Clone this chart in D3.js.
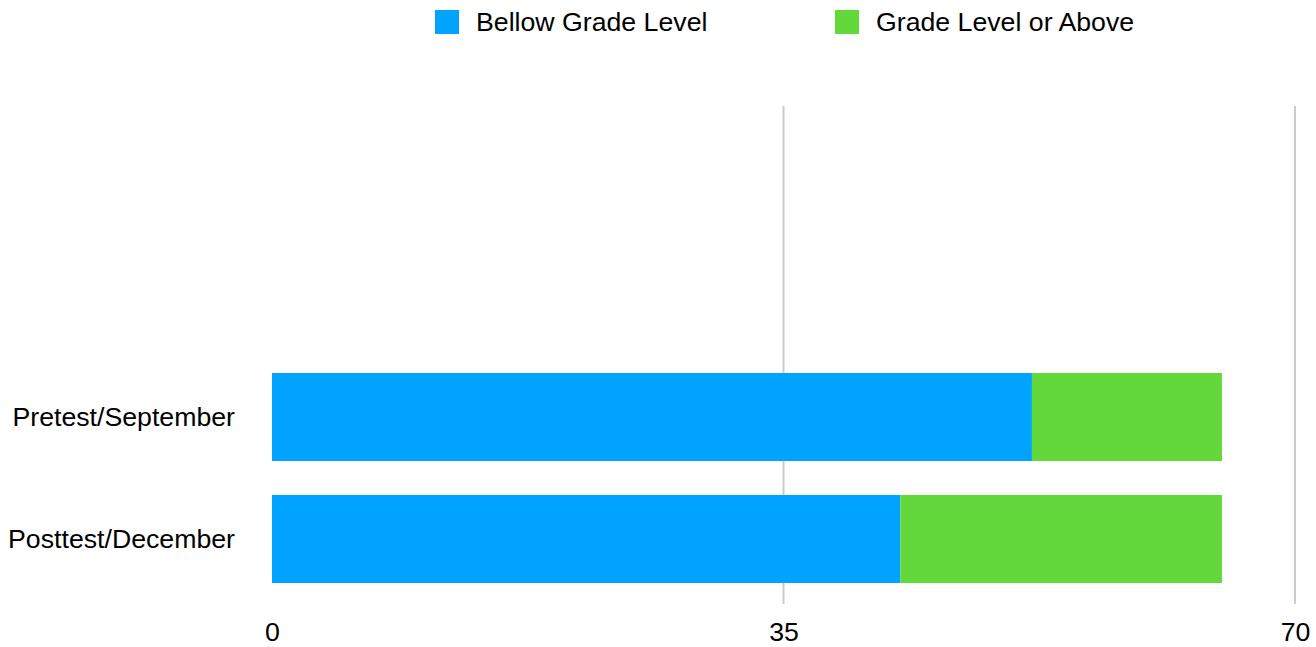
<!DOCTYPE html>
<html>
<head>
<meta charset="utf-8">
<script src="https://cdn.jsdelivr.net/npm/d3@7"></script>
<style>
  body { margin: 0; background: #fff; }
  text { font-family: "Liberation Sans", Arial, sans-serif; fill: #000; }
</style>
</head>
<body>
<div id="chart"></div>
<script>
// reading levels data
var categories = ["Pretest/September", "Posttest/December"];
var seriesNames = ["Bellow Grade Level", "Grade Level or Above"];
var bellowGrade = [52, 43];
var gradeOrAbove = [13, 22];
var tickValues = [0, 35, 70];

var colors = ["#00a3ff", "#63d83a"];
var fontSize = "26.7px";

var width = 1316, height = 647;

var svg = d3.select("#chart")
  .append("svg")
    .attr("width", width)
    .attr("height", height);

// x scale
var x = d3.scaleLinear()
  .domain([0, 70])
  .range([272, 1295]);

// y band scale for the two tests
var y = d3.scaleBand()
  .domain(categories)
  .range([356, 600])
  .paddingInner(0.2787)
  .paddingOuter(0.1393);

// gridlines
svg.append("g")
  .selectAll("line")
  .data(tickValues.filter(function(d) { return d > 0; }))
  .enter()
  .append("line")
    .attr("x1", function(d) { return x(d); })
    .attr("x2", function(d) { return x(d); })
    .attr("y1", 106)
    .attr("y2", 604)
    .attr("stroke", "#cccccc")
    .attr("stroke-width", 2);

// stack the two series
var rows = categories.map(function(c, i) {
  return { cat: c, below: bellowGrade[i], above: gradeOrAbove[i] };
});
var stacked = d3.stack().keys(["below", "above"])(rows);

svg.append("g")
  .selectAll("g")
  .data(stacked)
  .enter()
  .append("g")
    .attr("fill", function(d, i) { return colors[i]; })
  .selectAll("rect")
  .data(function(d) { return d; })
  .enter()
  .append("rect")
    .attr("x", function(d) { return x(d[0]); })
    .attr("y", function(d) { return y(d.data.cat); })
    .attr("width", function(d) { return x(d[1]) - x(d[0]); })
    .attr("height", y.bandwidth());

// x axis labels
var xAxis = svg.append("g")
  .attr("transform", "translate(0,641)")
  .call(d3.axisBottom(x).tickValues(tickValues).tickSize(0).tickPadding(0));
xAxis.select(".domain").remove();
xAxis.selectAll("text")
  .attr("dy", 0)
  .style("font-size", fontSize)
  .style("font-family", "'Liberation Sans', Arial, sans-serif");

// category labels
var yAxis = svg.append("g")
  .attr("transform", "translate(235,0)")
  .call(d3.axisLeft(y).tickSize(0).tickPadding(0));
yAxis.select(".domain").remove();
yAxis.selectAll("text")
  .attr("dy", "0.35em")
  .style("font-size", fontSize)
  .style("font-family", "'Liberation Sans', Arial, sans-serif");

// legend
var legendX = [435, 835];
var legend = svg.append("g")
  .selectAll("g")
  .data(seriesNames)
  .enter()
  .append("g")
    .attr("transform", function(d, i) { return "translate(" + legendX[i] + ",10)"; });

legend.append("rect")
  .attr("width", 24)
  .attr("height", 24)
  .attr("fill", function(d, i) { return colors[i]; });

legend.append("text")
  .attr("x", 41)
  .attr("y", 12)
  .attr("dy", "0.35em")
  .style("font-size", fontSize)
  .text(function(d) { return d; });
</script>
</body>
</html>
